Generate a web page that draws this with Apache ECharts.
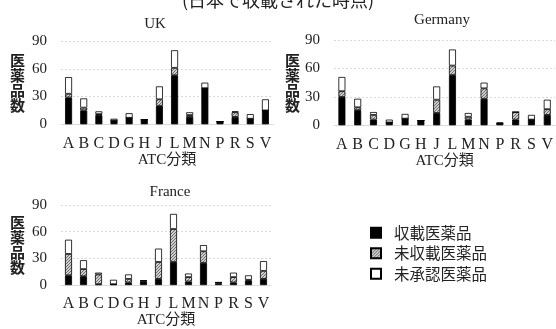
<!DOCTYPE html>
<html><head><meta charset="utf-8">
<script src="https://cdn.jsdelivr.net/npm/echarts@6/dist/echarts.min.js"></script>
<style>html,body{margin:0;padding:0;background:#fff}#c{width:556px;height:329px}</style>
</head><body><div id="c"></div>
<script>
const categories = ['A','B','C','D','G','H','J','L','M','N','P','R','S','V'];
const seriesNames = ['収載医薬品','未収載医薬品','未承認医薬品'];
const yTicks = [0,30,60,90];
const ukListed     = [29,15,10,4,7,5,20,53,8,39,3,8,6,15];
const ukUnlisted   = [4,3,1,0,0,0,7,8,2,0,0,5,0,0];
const ukUnapproved = [18,10,3,2,5,0,14,19,3,6,0,1,5,12];
const deListed     = [30,16,6,3,7,5,13,53,6,28,2,6,6,11];
const deUnlisted   = [6,3,5,0,0,0,14,10,3,11,0,8,0,6];
const deUnapproved = [15,9,3,3,5,0,14,17,4,6,1,0,5,10];
const frListed     = [11,10,1,1,3,4,7,26,4,25,2,3,5,7];
const frUnlisted   = [24,8,11,0,4,1,19,37,5,13,1,6,1,9];
const frUnapproved = [16,10,2,5,5,0,15,17,4,7,0,5,5,11];

// hatch pattern
const pc = document.createElement('canvas');
pc.width = 3; pc.height = 3;
const g = pc.getContext('2d');
g.fillStyle = '#cfcfcf'; g.fillRect(0,0,3,3);
g.fillStyle = '#6a6a6a';
g.fillRect(2,0,1,1); g.fillRect(1,1,1,1); g.fillRect(0,2,1,1);
const hatch = {image: pc, repeat: 'repeat'};

const serif = "'Liberation Serif','Times New Roman',serif";
const cjk = "'Noto Sans CJK JP','Noto Sans',sans-serif";
const fills = ['#000', hatch, '#fff'];

const grids = [
  {left:61, top:41, width:212, height:83.3},
  {left:334, top:40, width:222, height:85.3},
  {left:61, top:205, width:210, height:83.3}
];
const nameGaps = [36, 31, 36];
const xNameGaps = [28, 26, 27];
const panelData = [
  [ukListed, ukUnlisted, ukUnapproved],
  [deListed, deUnlisted, deUnapproved],
  [frListed, frUnlisted, frUnapproved]
];
const panelTitles = ['UK','Germany','France'];
const titlePos = [{x:150,y:12},{x:437,y:8},{x:165,y:180}];

const xAxis = grids.map((gr,i)=>({
  gridIndex:i, type:'category', data:categories,
  axisLine:{show:true, lineStyle:{color:'#d9d9d9'}},
  axisTick:{show:false},
  axisLabel:{interval:0, fontFamily:serif, fontSize:16, color:'#222', margin:11},
  name:'ATC分類', nameLocation:'middle', nameGap:xNameGaps[i],
  nameTextStyle:{fontFamily:serif+","+cjk, fontSize:15, color:'#222'}
}));
const yAxis = grids.map((gr,i)=>({
  gridIndex:i, type:'value', min:0, max:90, interval:30,
  axisLine:{show:false}, axisTick:{show:false},
  axisLabel:{fontFamily:serif, fontSize:15, color:'#222', margin:14},
  splitLine:{lineStyle:{color:'#d9d9d9', type:[2,2]}},
  name:'医\n薬\n品\n数', nameLocation:'middle', nameGap:nameGaps[i], nameRotate:0,
  nameTextStyle:{fontFamily:cjk, fontSize:15, lineHeight:15, color:'#222', fontWeight:'bold'}
}));
const series = [];
panelData.forEach((arrs,pi)=>{
  arrs.forEach((arr,si)=>{
    series.push({
      type:'bar', name:seriesNames[si], stack:'p'+pi,
      xAxisIndex:pi, yAxisIndex:pi, data:arr, barWidth:7,
      itemStyle:{color:fills[si], borderColor:'#000', borderWidth:0.8},
      emphasis:{disabled:true}, animation:false
    });
  });
});
const titles = [{text:'(日本で収載された時点)', left:'center', top:-14,
  textStyle:{fontFamily:cjk, fontSize:18, fontWeight:'normal', color:'#222'}}];
panelTitles.forEach((t,i)=>titles.push({text:t, left:titlePos[i].x, top:titlePos[i].y, textAlign:'center',
  textStyle:{fontFamily:serif, fontSize:15, fontWeight:'normal', color:'#222'}}));

const chart = echarts.init(document.getElementById('c'));
chart.setOption({
  animation:false,
  title:titles,
  grid:grids,
  xAxis:xAxis, yAxis:yAxis, series:series,
  legend:{orient:'vertical', left:365, top:220, itemWidth:10, itemHeight:10, itemGap:5,
    icon:'rect', data:seriesNames, selectedMode:false,
    textStyle:{fontFamily:cjk, fontSize:15.5, color:'#222', padding:[0,0,0,8]}}
});
</script></body></html>
